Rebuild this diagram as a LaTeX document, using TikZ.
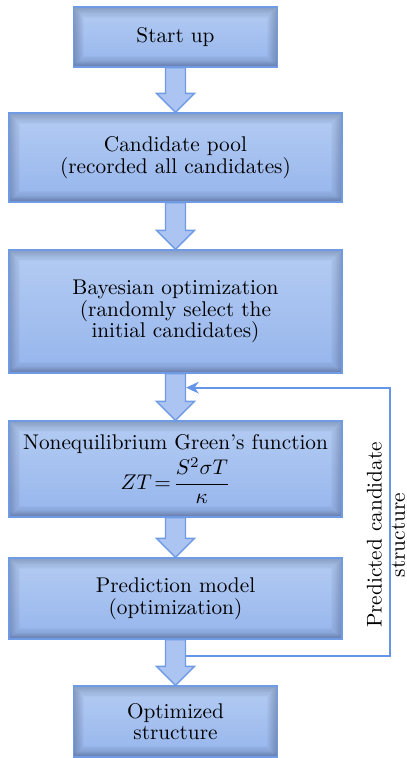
\documentclass[tikz,border=0pt]{standalone}
\usepackage{amsmath}
\usetikzlibrary{positioning}
\usetikzlibrary{calc}
\usetikzlibrary{arrows.meta}

\definecolor{boxtop}{RGB}{180,204,243}
\definecolor{boxbottom}{RGB}{150,181,236}
\definecolor{boxedge}{RGB}{111,155,228}
\definecolor{boxshade}{RGB}{50,62,95}
\definecolor{arrowfill}{RGB}{171,196,241}
\definecolor{loopline}{RGB}{100,149,230}

\tikzset{
  flowbox/.style={draw=boxedge, line width=0.6pt, top color=boxtop, bottom color=boxbottom,
    align=center, inner sep=0pt, font=\fontsize{10}{10.2}\selectfont,
    path picture={
      \foreach \w in {1,...,10}
        \draw[boxshade, line width=\w pt, opacity=0.035] (path picture bounding box.south west) rectangle (path picture bounding box.north east);
      \foreach \w in {1,...,5}
        \draw[boxshade, line width=\w pt, opacity=0.03] (path picture bounding box.south west) -- (path picture bounding box.south east);
    }},
  widebox/.style={flowbox, minimum width=333*0.47pt},
  narrowbox/.style={flowbox, minimum width=204*0.47pt},
  blockarrow/.style={draw=boxedge, fill=arrowfill, line width=0.6pt, line join=miter},
}

% block arrow from the bottom of #1 to the top of #2
\newcommand{\blockarrow}[2]{%
  \draw[blockarrow] ($(#1.south)+(-10,0)$) -- ($(#2.north)+(-10,-19)$) -- ($(#2.north)+(-19,-19)$)
    -- (#2.north) -- ($(#2.north)+(19,-19)$) -- ($(#2.north)+(10,-19)$) -- ($(#1.south)+(10,0)$) -- cycle;}

\begin{document}
\begin{tikzpicture}[x=0.47pt,y=0.47pt,yscale=-1,xscale=1]
\useasboundingbox (0,0) rectangle (406,758);

% Boxes
\node[narrowbox, minimum height=60*0.47pt] (start) at (175.5,37) {Start up};
\node[widebox, minimum height=89*0.47pt] (pool) at (175.5,157.5) {Candidate pool\\(recorded all candidates)};
\node[widebox, minimum height=123*0.47pt] (bayes) at (175.5,311.5) {Bayesian optimization\\(randomly select the\\initial candidates)};
\node[widebox, minimum height=96*0.47pt] (negf) at (175.5,469) {Nonequilibrium Green's function\\[1pt]$ZT\!=\!\dfrac{S^2\sigma T}{\kappa}$};
\node[widebox, minimum height=81*0.47pt] (predict) at (175.5,598.5) {Prediction model\\(optimization)};
\node[narrowbox, minimum height=71*0.47pt] (final) at (175.5,721.5) {Optimized\\structure};

% Block arrows
\blockarrow{start}{pool}
\blockarrow{pool}{bayes}
\blockarrow{bayes}{negf}
\blockarrow{negf}{predict}
\blockarrow{predict}{final}

% Feedback loop
\coordinate (loopstart) at ($(predict.south)+(10,16)$);
\coordinate (loopend) at ($(bayes.south)+(10.5,14)$);
\draw[loopline, line width=0.9pt, -{Stealth[length=6pt,width=5.5pt]}] (loopstart) -- ++(204.5,0) |- (loopend);

% Text Node
\node[rotate=90, align=center, font=\fontsize{10}{11}\selectfont] (looplabel) at (386,535) {Predicted candidate\\structure};

\end{tikzpicture}
\end{document}
